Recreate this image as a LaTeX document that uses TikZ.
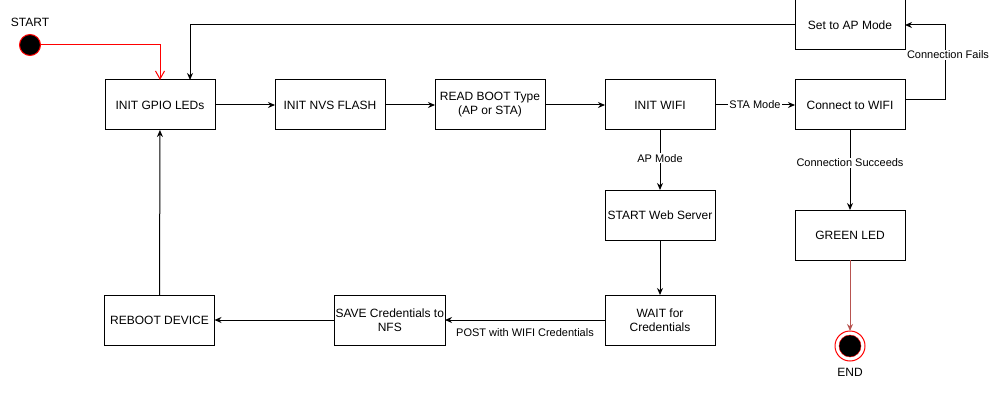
\documentclass[tikz,border=0pt]{standalone}
\usepackage{fontspec}
\setmainfont{Liberation Sans}
\usetikzlibrary{arrows.meta, positioning}
\definecolor{endred}{RGB}{184, 84, 80}

\begin{document}
\begin{tikzpicture}[
    x=1pt, y=1pt,
    node distance=60pt,
    every node/.style={font=\fontsize{12}{14}\selectfont},
    block/.style={rectangle, draw, line width=1pt, minimum width=110pt, minimum height=50pt, align=center, inner sep=1pt, outer sep=0pt},
    lbl/.style={font=\fontsize{11}{13}\selectfont, fill=white, inner sep=1pt},
    arrow/.style={-{Stealth[length=7pt, width=6pt]}, line width=1pt}
]
\useasboundingbox (0,0) rectangle (990,-401);

% Main row
\node[block] (gpio) at (160,-105) {INIT GPIO LEDs};
\node[block, right=60pt of gpio] (nvs) {INIT NVS FLASH};
\node[block, right=50pt of nvs] (boot) {READ BOOT Type\\(AP or STA)};
\node[block, right=60pt of boot] (wifi) {INIT WIFI};
\node[block, right=80pt of wifi] (conn) {Connect to WIFI};
\node[block, above=30pt of conn] (apmode) {Set to AP Mode};

% AP branch
\node[block, below=60pt of wifi] (web) {START Web Server};
\node[block, below=55pt of web] (wait) {WAIT for\\Credentials};
\node[block, left=160pt of wait] (save) {SAVE Credentials to\\NFS};
\node[block, left=120pt of save] (reboot) {REBOOT DEVICE};

% STA branch
\node[block, below=80pt of conn] (green) {GREEN LED};

% Start and end
\node[circle, draw=red, fill=black, line width=1pt, minimum size=21pt, inner sep=0pt] (start) at (30,-45) {};
\node[above=4pt of start] (starttxt) {START};
\node[circle, draw=red, fill=white, line width=1pt, minimum size=30pt, inner sep=0pt, outer sep=0pt, below=71pt of green] (end) {};
\node[circle, draw=red, fill=black, minimum size=22pt, inner sep=0pt] (endin) at (end) {};
\node[below=4pt of end] (endtxt) {END};

% Arrows
\draw[-{Straight Barb[length=8pt, width=9pt]}, red, line width=1pt] (start) -| (gpio);
\draw[arrow] (apmode) -| ([xshift=30pt]gpio.north);
\draw[arrow] (gpio) -- (nvs);
\draw[arrow] (nvs) -- (boot);
\draw[arrow] (boot) -- (wifi);
\draw[arrow] (wifi) -- node[lbl] {STA Mode} (conn);
\draw[arrow] ([yshift=5pt]conn.east) -- ++(40,0) |- node[lbl, pos=0.3, xshift=3pt] {Connection Fails} (apmode);
\draw[arrow] (wifi) -- node[lbl, pos=0.47] {AP Mode} (web);
\draw[arrow] (conn) -- node[lbl, pos=0.41] {Connection Succeeds} (green);
\draw[arrow] (web) -- (wait);
\draw[arrow] (wait) -- node[lbl, below=7pt] {POST with WIFI Credentials} (save);
\draw[arrow] (save) -- (reboot);
\draw[arrow] (reboot) -- (gpio);
\draw[-{Stealth[length=7pt, width=6pt]}, endred, line width=1pt] (green) -- (end);

\end{tikzpicture}
\end{document}
